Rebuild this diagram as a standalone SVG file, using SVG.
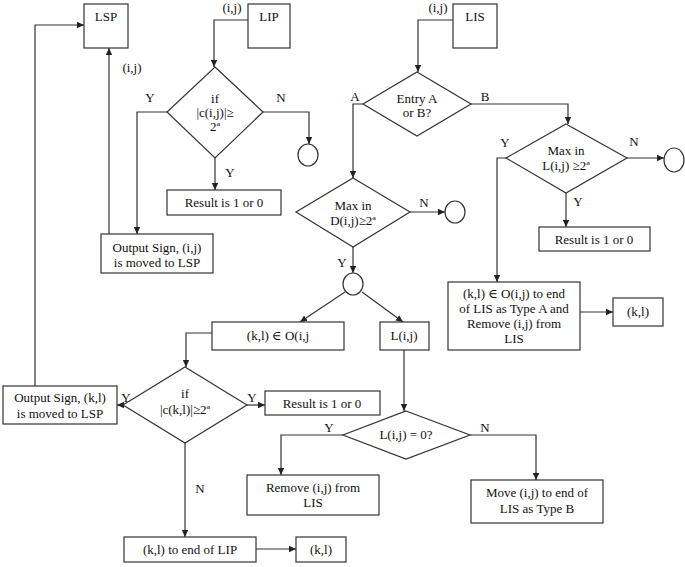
<svg xmlns="http://www.w3.org/2000/svg" width="685" height="567" viewBox="0 0 685 567">
<style>
.b{fill:#fff;stroke:#333;stroke-width:1.2}
.c{fill:none;stroke:#333;stroke-width:1.2}
text{font-family:'Liberation Serif','DejaVu Serif',serif;font-size:13px;fill:#111;text-anchor:middle}
</style>
<defs>
<marker id="ah" markerWidth="8" markerHeight="8" refX="7" refY="4" orient="auto" markerUnits="userSpaceOnUse">
<path d="M0,0.8 L7,4 L0,7.2 Z" fill="#222"/>
</marker>
</defs>
<rect width="685" height="567" fill="#fff"/>
<g id="connectors" font-family="Liberation Serif, serif">
<path class="c" d="M248,20 H214 V67" marker-end="url(#ah)"/>
<path class="c" d="M263,112 H309 V144" marker-end="url(#ah)"/>
<path class="c" d="M215,158 V190" marker-end="url(#ah)"/>
<path class="c" d="M167,112 H137 V234" marker-end="url(#ah)"/>
<path class="c" d="M109,234 V48" marker-end="url(#ah)"/>
<path class="c" d="M35,386 V25 H84" marker-end="url(#ah)"/>
<path class="c" d="M453,20 H418 V72" marker-end="url(#ah)"/>
<path class="c" d="M363,104 H353 V178" marker-end="url(#ah)"/>
<path class="c" d="M471,104 H568 V124" marker-end="url(#ah)"/>
<path class="c" d="M410,212 H445" marker-end="url(#ah)"/>
<path class="c" d="M353,247 V273" marker-end="url(#ah)"/>
<path class="c" d="M345,292 L300,322" marker-end="url(#ah)"/>
<path class="c" d="M362,292 L403,322" marker-end="url(#ah)"/>
<path class="c" d="M627,158 H664" marker-end="url(#ah)"/>
<path class="c" d="M566,193 V227" marker-end="url(#ah)"/>
<path class="c" d="M506,158 H497 V282" marker-end="url(#ah)"/>
<path class="c" d="M580,312 H613" marker-end="url(#ah)"/>
<path class="c" d="M212,333 H186 V367" marker-end="url(#ah)"/>
<path class="c" d="M123,405 H117" marker-end="url(#ah)"/>
<path class="c" d="M247,405 H265" marker-end="url(#ah)"/>
<path class="c" d="M185,443 V537" marker-end="url(#ah)"/>
<path class="c" d="M256,549 H296" marker-end="url(#ah)"/>
<path class="c" d="M404,350 V411" marker-end="url(#ah)"/>
<path class="c" d="M343,435 H281 V475" marker-end="url(#ah)"/>
<path class="c" d="M470,435 H536 V480" marker-end="url(#ah)"/>
<text x="232" y="12">(i,j)</text>
<text x="438" y="12">(i,j)</text>
<text x="132" y="72">(i,j)</text>
<text x="150" y="102">Y</text>
<text x="281" y="102">N</text>
<text x="230" y="177">Y</text>
<text x="355" y="101">A</text>
<text x="485" y="101">B</text>
<text x="505" y="147">Y</text>
<text x="634" y="146">N</text>
<text x="578" y="206">Y</text>
<text x="424" y="207">N</text>
<text x="342" y="267">Y</text>
<text x="126" y="402">Y</text>
<text x="252" y="402">Y</text>
<text x="200" y="493">N</text>
<text x="329" y="432">Y</text>
<text x="485" y="432">N</text>
</g>
<g id="lsp"><rect class="b" x="84" y="4" width="44" height="44"/><text x="106" y="21">LSP</text></g>
<g id="lip"><rect class="b" x="248" y="4" width="42" height="44"/><text x="269" y="21">LIP</text></g>
<g id="lis"><rect class="b" x="453" y="4" width="44" height="44"/><text x="475" y="21">LIS</text></g>
<g id="cond-cij"><polygon class="b" points="215,67 263,112 215,158 167,112"/><text x="215" y="103">if</text><text x="215" y="117">|c(i,j)|≥</text><text x="215" y="131">2ª</text></g>
<g id="end-lip"><ellipse class="b" cx="308" cy="155" rx="10" ry="11"/></g>
<g id="result1"><rect class="b" x="167" y="190" width="114" height="25"/><text x="224" y="207">Result is 1 or 0</text></g>
<g id="output-ij"><rect class="b" x="101" y="234" width="112" height="39"/><text x="157" y="252">Output Sign, (i,j)</text><text x="157" y="267">is moved to LSP</text></g>
<g id="entry"><polygon class="b" points="417,72 471,104 417,136 363,104"/><text x="417" y="103">Entry A</text><text x="417" y="117">or B?</text></g>
<g id="max-d"><polygon class="b" points="353,178 410,212 353,247 296,212"/><text x="353" y="210">Max in</text><text x="353" y="225">D(i,j)≥2ª</text></g>
<g id="end-d"><ellipse class="b" cx="455" cy="212" rx="10" ry="11"/></g>
<g id="split"><ellipse class="b" cx="353" cy="284" rx="10" ry="11"/></g>
<g id="max-l"><polygon class="b" points="566,124 627,158 566,193 506,158"/><text x="566" y="155">Max in</text><text x="566" y="170">L(i,j) ≥2ª</text></g>
<g id="end-l"><ellipse class="b" cx="674" cy="160" rx="10" ry="12"/></g>
<g id="result2"><rect class="b" x="539" y="227" width="111" height="24"/><text x="594" y="244">Result is 1 or 0</text></g>
<g id="type-a"><rect class="b" x="448" y="282" width="132" height="68"/><text x="514" y="298">(k,l) ∈ O(i,j) to end</text><text x="514" y="313">of LIS as Type A and</text><text x="514" y="328">Remove (i,j) from</text><text x="514" y="343">LIS</text></g>
<g id="kl-right"><rect class="b" x="613" y="298" width="50" height="28"/><text x="638" y="316">(k,l)</text></g>
<g id="kl-in-o"><rect class="b" x="212" y="322" width="132" height="28"/><text x="278" y="340">(k,l) ∈ O(i,j</text></g>
<g id="lij"><rect class="b" x="380" y="322" width="49" height="28"/><text x="404" y="340">L(i,j)</text></g>
<g id="cond-ckl"><polygon class="b" points="185,367 247,405 185,443 123,405"/><text x="185" y="398">if</text><text x="185" y="414">|c(k,l)|≥2ª</text></g>
<g id="output-kl"><rect class="b" x="3" y="386" width="114" height="38"/><text x="60" y="402">Output Sign, (k,l)</text><text x="60" y="418">is moved to LSP</text></g>
<g id="result3"><rect class="b" x="265" y="391" width="115" height="24"/><text x="322" y="408">Result is 1 or 0</text></g>
<g id="l-zero"><polygon class="b" points="406,411 470,435 406,459 343,435"/><text x="406" y="439">L(i,j) = 0?</text></g>
<g id="remove"><rect class="b" x="247" y="475" width="132" height="40"/><text x="313" y="492">Remove (i,j) from</text><text x="313" y="507">LIS</text></g>
<g id="type-b"><rect class="b" x="471" y="480" width="132" height="43"/><text x="537" y="497">Move (i,j) to end of</text><text x="537" y="513">LIS as Type B</text></g>
<g id="lip-end"><rect class="b" x="124" y="537" width="132" height="25"/><text x="190" y="554">(k,l) to end of LIP</text></g>
<g id="kl-bottom"><rect class="b" x="296" y="537" width="50" height="25"/><text x="321" y="554">(k,l)</text></g>
</svg>
